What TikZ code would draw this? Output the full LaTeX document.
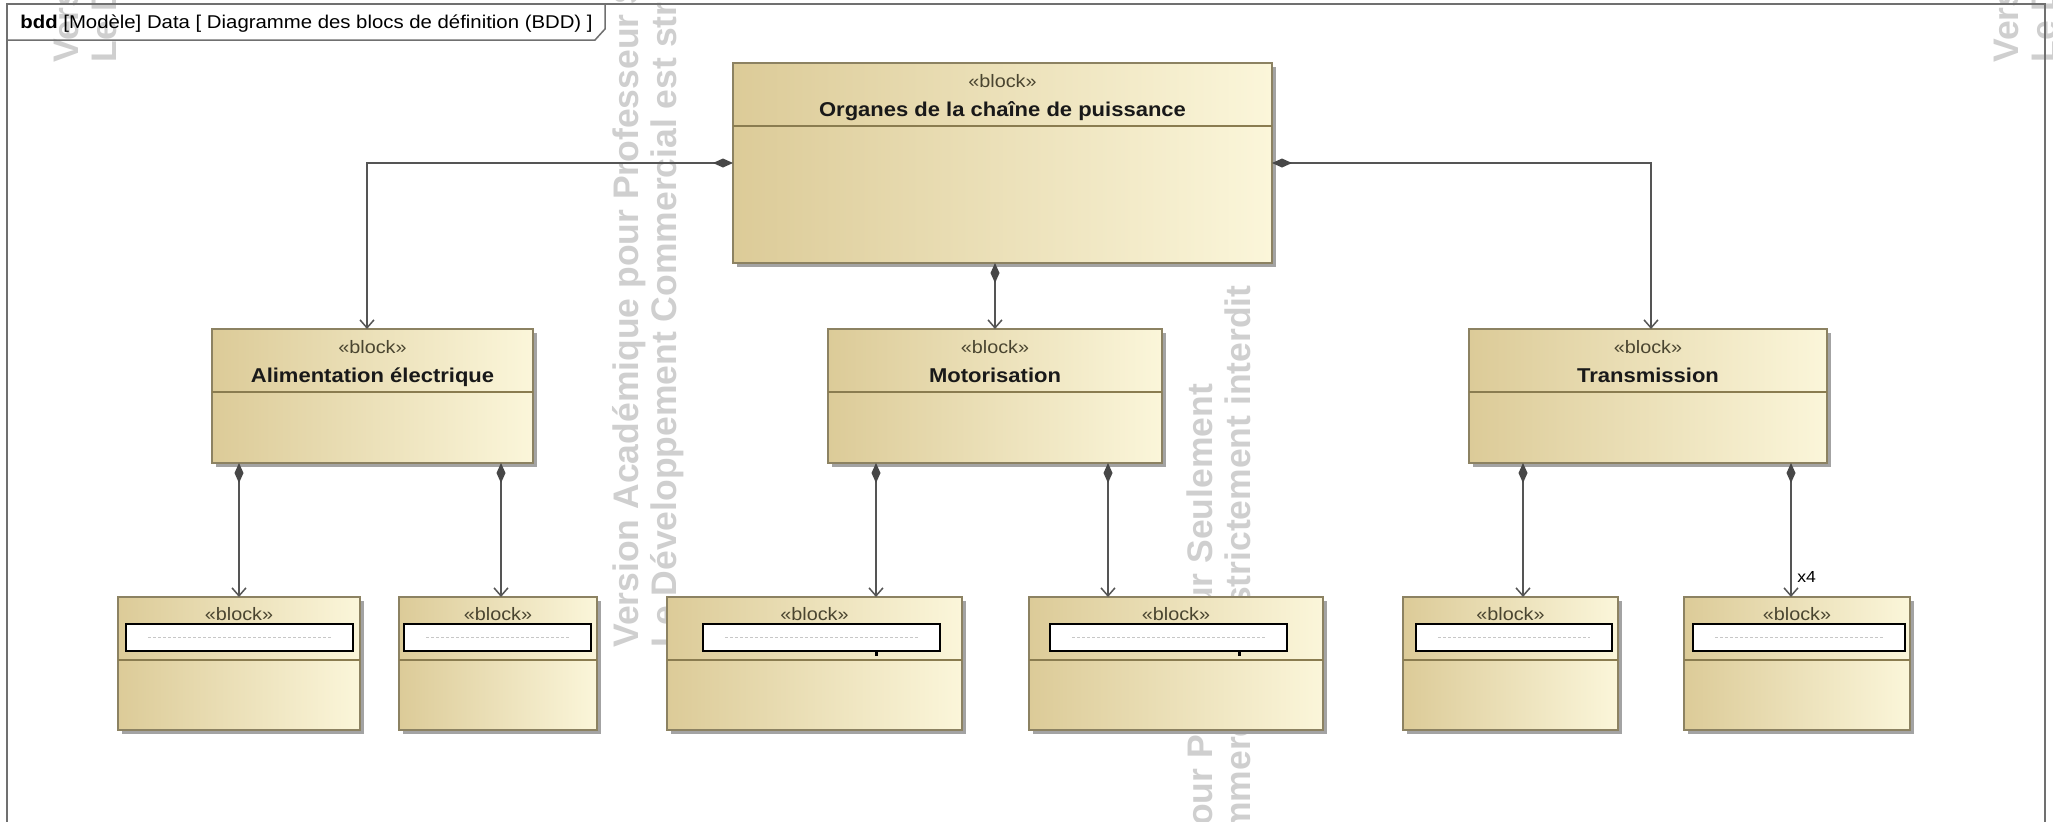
\documentclass[tikz,border=0pt]{standalone}
\usepackage{fontspec}
\setmainfont{Liberation Sans}
\newfontfamily\umlfont[FakeStretch=1.1]{Liberation Sans}
\usetikzlibrary{arrows.meta,shadows}
\definecolor{blkL}{HTML}{DCCB98}
\definecolor{blkR}{HTML}{FBF6DA}
\definecolor{blkedge}{HTML}{8C8262}
\definecolor{cmpline}{HTML}{8A7C50}
\definecolor{lnk}{HTML}{555555}
\definecolor{dia}{HTML}{474747}
\definecolor{frm}{HTML}{707070}
\definecolor{stereo}{HTML}{4A4530}
\definecolor{wmark}{HTML}{CFCFCF}
\definecolor{shd}{HTML}{A3A3A3}

% block with title: name, x1, y1, x2, y2, title
\newcommand\mkblk[6]{%
  \node[blkbox, minimum width={(#4-#2)*0.5pt}, minimum height={(#5-#3)*0.5pt}] (#1) at ({(#2+#4)/2},{(#3+#5)/2}) {};
  \draw[compline] (#1.west |- 0,{#3+63}) -- (#1.east |- 0,{#3+63});
  \node[stereotxt, anchor=base] (#1-st) at ({(#2+#4)/2},{#3+24}) {«block»};
  \node[nametxt, anchor=base] (#1-nm) at ({(#2+#4)/2},{#3+53}) {#6};
}
% part block with edit field: name, x1, x2, ex1, ex2
\newcommand\mkpart[5]{%
  \node[blkbox, minimum width={(#3-#2)*0.5pt}, minimum height={133*0.5pt}] (#1) at ({(#2+#3)/2},663.5) {};
  \draw[compline] (#1.west |- 0,660) -- (#1.east |- 0,660);
  \node[stereotxt, anchor=base] (#1-st) at ({(#2+#3)/2},620) {«block»};
  \node[editbox, minimum width={(#5-#4)*0.5pt}, minimum height={27*0.5pt}] (#1-ed) at ({(#4+#5)/2},637.5) {};
  \draw[dotln] ([xshift=11pt]#1-ed.west) -- ([xshift=-11pt]#1-ed.east);
}

\begin{document}
\begin{tikzpicture}[x=0.5pt,y=-0.5pt,
  blkbox/.style={rectangle, draw=blkedge, line width=0.75pt, left color=blkL, right color=blkR,
    inner sep=0pt, outer sep=0pt,
    drop shadow={shadow xshift=2pt, shadow yshift=-2pt, fill=shd, opacity=1}},
  compline/.style={draw=cmpline, line width=0.75pt},
  stereotxt/.style={font=\umlfont\fontsize{9pt}{10pt}\selectfont, text=stereo, inner sep=0pt},
  nametxt/.style={font=\umlfont\bfseries\fontsize{10pt}{12pt}\selectfont, text=black!90, inner sep=0pt},
  editbox/.style={rectangle, draw=black, line width=0.8pt, fill=white, inner sep=0pt, outer sep=0pt},
  dotln/.style={draw=black!22, line width=0.4pt, dash pattern=on 1.5pt off 1pt},
  comp/.style={draw=lnk, line width=0.75pt,
    arrows={Diamond[length=10pt,width=4.5pt,fill=dia,color=dia]-Straight Barb[length=4pt,width=7pt]}},
  frmline/.style={draw=frm, line width=0.75pt},
  wm/.style={font=\bfseries\fontsize{17.75pt}{20pt}\selectfont, text=wmark, rotate=90, anchor=base west, inner sep=0pt}
]
\useasboundingbox (0,0) rectangle (2053,821);
\clip (0,0) rectangle (2053,821);
\fill[white] (0,0) rectangle (2053,821);

% watermark
\node[wm] (wm0a) at (78,63) {Version Académique pour Professeur Seulement};
\node[wm] (wm0b) at (116,63) {Le Développement Commercial est strictement interdit};
\node[wm] (wm1a) at (638,648) {Version Académique pour Professeur Seulement};
\node[wm] (wm1b) at (676,648) {Le Développement Commercial est strictement interdit};
\node[wm] (wm2a) at (1212,1207) {Version Académique pour Professeur Seulement};
\node[wm] (wm2b) at (1250,1207) {Le Développement Commercial est strictement interdit};
\node[wm] (wm3a) at (2018,63) {Version Académique pour Professeur Seulement};
\node[wm] (wm3b) at (2056,63) {Le Développement Commercial est strictement interdit};

% frame and heading tab
\draw[frmline] (7,4) rectangle (2045,840);
\draw[frmline] (7,40) -- (595,40) -- (605,29) -- (605,4);
\node[font=\umlfont\fontsize{9.25pt}{11pt}\selectfont, anchor=base west, inner sep=0pt] (ttl) at (20,28)
  {\textbf{bdd} [Modèle] Data [ Diagramme des blocs de définition (BDD) ]};

% blocks
\mkblk{top}{733}{63}{1272}{263}{Organes de la chaîne de puissance}
\mkblk{alim}{212}{329}{533}{463}{Alimentation électrique}
\mkblk{moto}{828}{329}{1162}{463}{Motorisation}
\mkblk{trans}{1469}{329}{1827}{463}{Transmission}

\mkpart{b1}{118}{360}{126}{353}
\mkpart{b2}{399}{597}{404}{591}
\mkpart{b3}{667}{962}{703}{940}
\mkpart{b4}{1029}{1323}{1050}{1287}
\mkpart{b5}{1403}{1618}{1416}{1612}
\mkpart{b6}{1684}{1910}{1693}{1905}

\fill[black] (875,651) rectangle (878,656);
\fill[black] (1238,651) rectangle (1241,656);

% connector columns
\coordinate (ax) at (367,0);
\coordinate (tx) at (1651,0);
\coordinate (mx) at (995,0);
\coordinate (c1) at (239,0);
\coordinate (c2) at (501,0);
\coordinate (c3) at (876,0);
\coordinate (c4) at (1108,0);
\coordinate (c5) at (1523,0);
\coordinate (c6) at (1791,0);

\draw[comp] (top.west) -| (ax |- alim.north);
\draw[comp] (top.east) -| (tx |- trans.north);
\draw[comp] (mx |- top.south) -- (mx |- moto.north);
\draw[comp] (c1 |- alim.south) -- (c1 |- b1.north);
\draw[comp] (c2 |- alim.south) -- (c2 |- b2.north);
\draw[comp] (c3 |- moto.south) -- (c3 |- b3.north);
\draw[comp] (c4 |- moto.south) -- (c4 |- b4.north);
\draw[comp] (c5 |- trans.south) -- (c5 |- b5.north);
\draw[comp] (c6 |- trans.south) -- (c6 |- b6.north);

\node[font=\umlfont\fontsize{8pt}{9pt}\selectfont, anchor=west, inner sep=0pt] (mult) at (1797,577) {x4};
\end{tikzpicture}
\end{document}
